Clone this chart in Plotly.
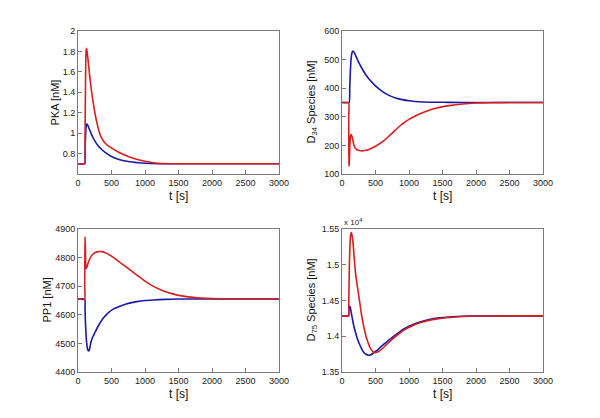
import plotly.graph_objects as go
from plotly.subplots import make_subplots

# ---------------- data ----------------
# PKA [nM]
pka_blue_t = [0, 100, 105, 110, 115, 120, 130, 140, 150, 175, 200, 225, 250, 300, 350, 400, 500, 600, 750, 900, 1000, 1200, 1500, 3000]
pka_blue_v = [0.70, 0.70, 0.80, 0.92, 1.00, 1.06, 1.09, 1.085, 1.07, 1.03, 0.99, 0.955, 0.925, 0.877, 0.842, 0.814, 0.772, 0.745, 0.722, 0.71, 0.705, 0.70, 0.70, 0.70]
pka_red_t = [0, 100, 105, 110, 115, 120, 126, 135, 150, 175, 200, 225, 275, 325, 350, 400, 450, 500, 600, 750, 900, 1000, 1100, 1200, 1500, 3000]
pka_red_v = [0.70, 0.70, 0.95, 1.35, 1.65, 1.79, 1.83, 1.80, 1.717, 1.557, 1.42, 1.307, 1.123, 0.995, 0.955, 0.905, 0.875, 0.855, 0.815, 0.772, 0.74, 0.725, 0.712, 0.705, 0.70, 0.70]

# D34 species [nM]
d34_blue_t = [0, 105, 115, 125, 135, 145, 155, 165, 180, 200, 250, 300, 350, 400, 500, 600, 700, 800, 900, 1000, 1200, 1400, 1600, 2000, 3000]
d34_blue_v = [350, 350, 400, 460, 500, 520, 528, 530, 526, 516, 490, 468, 449, 433, 408, 389, 375, 366, 360, 356, 352, 351, 350.5, 350, 350]
d34_red_t = [0, 99, 100, 102, 104, 106, 110, 115, 120, 130, 140, 150, 165, 180, 200, 230, 260, 300, 340, 400, 500, 600, 700, 800, 900, 1000, 1100, 1200, 1300, 1400, 1600, 1800, 2000, 2200, 2500, 3000]
d34_red_v = [350, 350, 300, 200, 140, 127, 150, 185, 215, 235, 238, 230, 215, 200, 190, 184, 182, 181, 182, 186, 197, 212, 232, 254, 275, 291, 304, 314, 323, 330, 339, 345, 348, 349.3, 350, 350]

# PP1 [nM]
pp1_blue_t = [0, 100, 105, 110, 120, 130, 140, 150, 160, 170, 185, 200, 225, 250, 300, 375, 450, 525, 625, 750, 875, 1000, 1125, 1300, 1500, 3000]
pp1_blue_v = [4655, 4655, 4620, 4580, 4530, 4500, 4483, 4476, 4474, 4478, 4495, 4510, 4525, 4537, 4560, 4588, 4607, 4620, 4630, 4640, 4646, 4650, 4652, 4654, 4655, 4655]
pp1_red_t = [0, 99, 100, 103, 106, 110, 115, 120, 130, 150, 175, 200, 250, 300, 350, 400, 500, 600, 750, 900, 1000, 1100, 1250, 1400, 1500, 1750, 2000, 2250, 3000]
pp1_red_v = [4655, 4655, 4700, 4820, 4873, 4840, 4775, 4762, 4765, 4780, 4795, 4806, 4817, 4821, 4821, 4818, 4805, 4788, 4762, 4735, 4718, 4703, 4686, 4674, 4668, 4660, 4657, 4655.5, 4655]

# D75 species [x 1e4 nM]
d75_blue_t = [0, 99, 100, 105, 110, 118, 125, 140, 160, 180, 200, 225, 250, 275, 300, 330, 360, 390, 420, 450, 480, 520, 560, 600, 660, 750, 850, 950, 1050, 1150, 1300, 1450, 1600, 1800, 2000, 3000]
d75_blue_v = [1.4285, 1.4285, 1.432, 1.438, 1.441, 1.442, 1.440, 1.432, 1.422, 1.413, 1.406, 1.398, 1.3915, 1.386, 1.381, 1.377, 1.3748, 1.3736, 1.3738, 1.3752, 1.3775, 1.380, 1.3835, 1.3868, 1.3915, 1.3985, 1.4055, 1.4115, 1.4162, 1.4197, 1.4235, 1.4258, 1.4270, 1.4280, 1.4284, 1.4285]
d75_red_t = [0, 99, 100, 105, 110, 120, 130, 140, 150, 165, 180, 200, 215, 240, 265, 290, 315, 340, 365, 390, 415, 440, 465, 490, 520, 560, 600, 660, 750, 850, 950, 1050, 1150, 1300, 1400, 1550, 1700, 1900, 2100, 3000]
d75_red_v = [1.4285, 1.4285, 1.44, 1.47, 1.50, 1.53, 1.543, 1.545, 1.541, 1.530, 1.512, 1.490, 1.479, 1.463, 1.447, 1.431, 1.418, 1.407, 1.398, 1.391, 1.385, 1.381, 1.378, 1.377, 1.3775, 1.3795, 1.3825, 1.388, 1.396, 1.4035, 1.410, 1.4148, 1.4185, 1.4222, 1.424, 1.4258, 1.427, 1.428, 1.4284, 1.4285]

x_ticks = [0, 500, 1000, 1500, 2000, 2500, 3000]
pka_ticks = [0.8, 1.0, 1.2, 1.4, 1.6, 1.8, 2.0]
pka_ticktext = ["0.8", "1", "1.2", "1.4", "1.6", "1.8", "2"]
d34_ticks = [100, 200, 300, 400, 500, 600]
pp1_ticks = [4400, 4500, 4600, 4700, 4800, 4900]
d75_ticks = [1.35, 1.40, 1.45, 1.50, 1.55]
d75_ticktext = ["1.35", "1.4", "1.45", "1.5", "1.55"]

x_title = "t [s]"
y_titles = ["PKA [nM]", "D<sub>34</sub> Species [nM]", "PP1 [nM]", "D<sub>75</sub> Species [nM]"]

# ---------------- figure ----------------
BLUE = "#1a1aa8"
RED = "#d81e1e"
FONT = "Liberation Sans, Arial, sans-serif"
W, H = 600, 418

fig = make_subplots(rows=2, cols=2)

panels = [
    (1, 1, pka_blue_t, pka_blue_v, pka_red_t, pka_red_v),
    (1, 2, d34_blue_t, d34_blue_v, d34_red_t, d34_red_v),
    (2, 1, pp1_blue_t, pp1_blue_v, pp1_red_t, pp1_red_v),
    (2, 2, d75_blue_t, d75_blue_v, d75_red_t, d75_red_v),
]
for r, c, bt, bv, rt, rv in panels:
    fig.add_trace(go.Scatter(x=bt, y=bv, mode="lines",
                             line=dict(color=BLUE, width=1.6, shape="spline", smoothing=0.5),
                             showlegend=False, hoverinfo="skip"), row=r, col=c)
    fig.add_trace(go.Scatter(x=rt, y=rv, mode="lines",
                             line=dict(color=RED, width=1.6, shape="spline", smoothing=0.5),
                             showlegend=False, hoverinfo="skip"), row=r, col=c)

# plot-area pixel boxes (left, right, top, bottom)
L1, R1, L2, R2 = 78, 279, 342, 543
T1, B1, T2, B2 = 31, 174, 229, 372
xdom_l = [L1 / W, R1 / W]
xdom_r = [L2 / W, R2 / W]
ydom_t = [1 - B1 / H, 1 - T1 / H]
ydom_b = [1 - B2 / H, 1 - T2 / H]

axis_common = dict(showline=True, mirror=True, linecolor="#7a7a7a", linewidth=1,
                   ticks="inside", ticklen=4, tickcolor="#7a7a7a", showgrid=False,
                   zeroline=False, automargin=False,
                   tickfont=dict(family=FONT, size=9, color="#222"))

fig.update_layout(
    width=W, height=H, margin=dict(l=0, r=0, t=0, b=0),
    paper_bgcolor="white", plot_bgcolor="white", font=dict(family=FONT, size=10),
    xaxis=dict(domain=xdom_l, range=[0, 3000], tickvals=x_ticks, **axis_common),
    xaxis2=dict(domain=xdom_r, range=[0, 3000], tickvals=x_ticks, **axis_common),
    xaxis3=dict(domain=xdom_l, range=[0, 3000], tickvals=x_ticks, **axis_common),
    xaxis4=dict(domain=xdom_r, range=[0, 3000], tickvals=x_ticks, **axis_common),
    yaxis=dict(domain=ydom_t, range=[0.6, 2.0], tickvals=pka_ticks, ticktext=pka_ticktext, **axis_common),
    yaxis2=dict(domain=ydom_t, range=[100, 600], tickvals=d34_ticks, **axis_common),
    yaxis3=dict(domain=ydom_b, range=[4400, 4900], tickvals=pp1_ticks, **axis_common),
    yaxis4=dict(domain=ydom_b, range=[1.35, 1.55], tickvals=d75_ticks, ticktext=d75_ticktext, **axis_common),
)

# axis titles (placed as in the reference)
for (l, r, t, b) in [(L1, R1, T1, B1), (L2, R2, T1, B1), (L1, R1, T2, B2), (L2, R2, T2, B2)]:
    fig.add_annotation(text=x_title, xref="paper", yref="paper",
                       x=(l + r) / 2 / W, y=1 - (b + 22) / H, xanchor="center", yanchor="middle",
                       showarrow=False, font=dict(family=FONT, size=12, color="#111"))
ytitle_x = [55, 312, 46, 311]
ytitle_y = [(T1 + B1) / 2, (T1 + B1) / 2, (T2 + B2) / 2, (T2 + B2) / 2]
for txt, xp, yp in zip(y_titles, ytitle_x, ytitle_y):
    fig.add_annotation(text=txt, xref="paper", yref="paper", textangle=-90,
                       x=xp / W, y=1 - yp / H, xanchor="center", yanchor="middle",
                       showarrow=False, font=dict(family=FONT, size=11, color="#111"))

fig.add_annotation(text="x 10<sup>4</sup>", xref="paper", yref="paper",
                   x=L2 / W, y=1 - T2 / H, xanchor="left", yanchor="bottom",
                   showarrow=False, font=dict(family=FONT, size=8, color="#222"))

fig.write_html("out.html", config={"displayModeBar": False},
               post_script="document.body.style.margin='0';document.body.style.overflow='hidden';")
